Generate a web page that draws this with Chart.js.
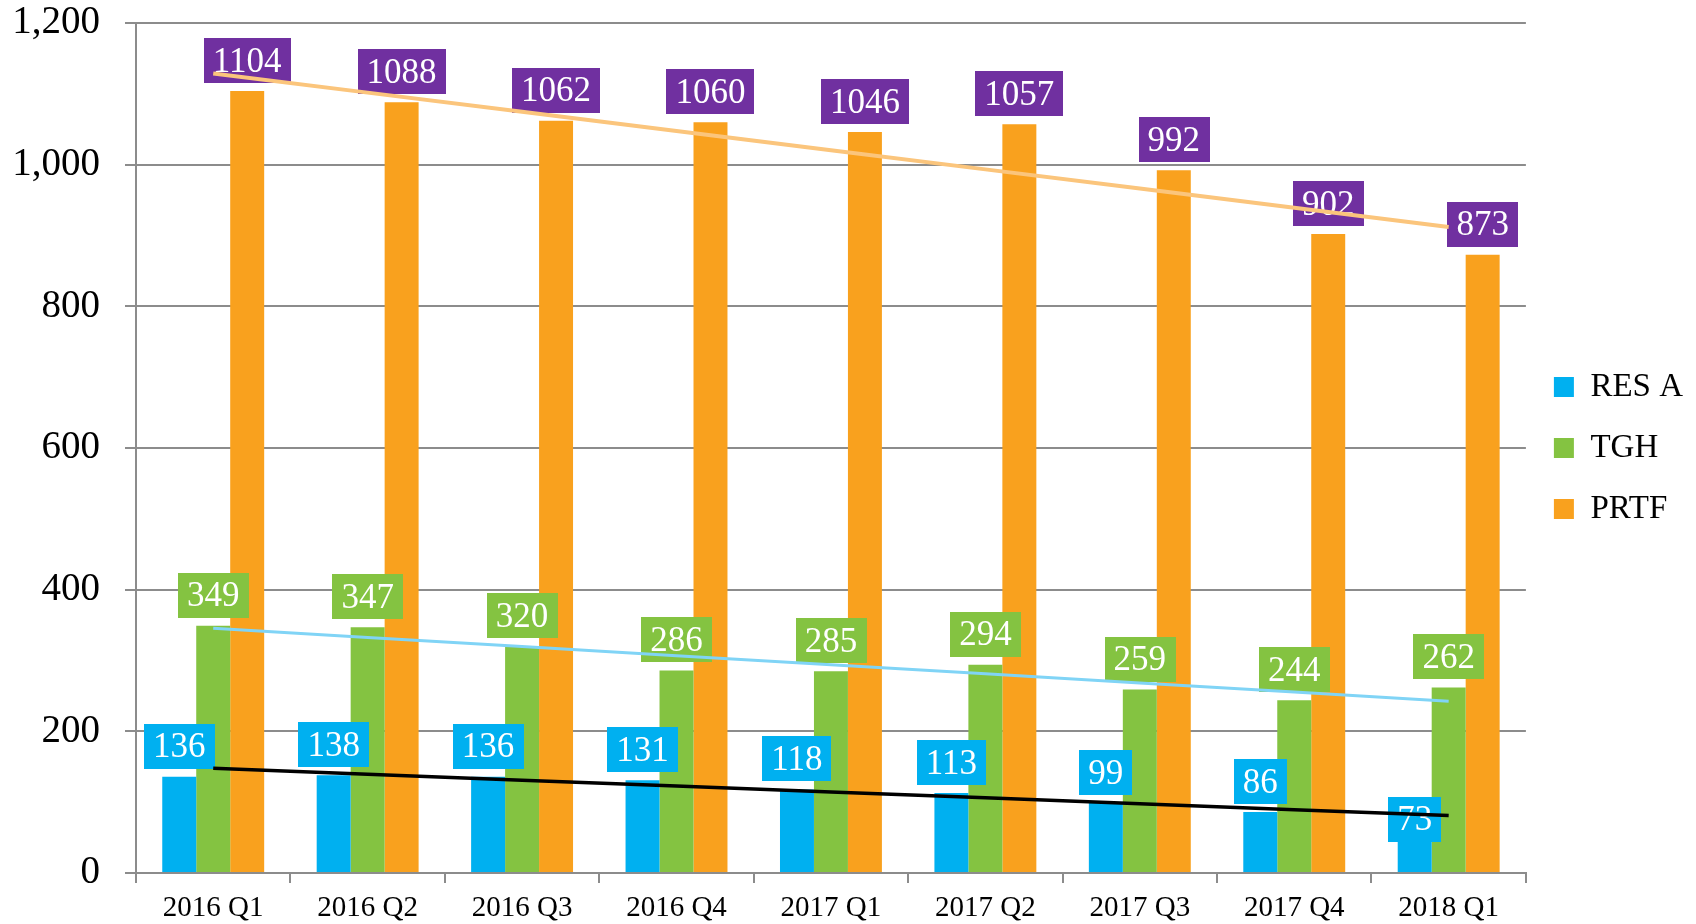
<!DOCTYPE html>
<html><head><meta charset="utf-8">
<script src="https://cdn.jsdelivr.net/npm/chart.js@4.4.0/dist/chart.umd.min.js"></script>
<style>html,body{margin:0;padding:0;background:#fff}#wrap{width:1696px;height:924px;position:relative}</style>
</head><body><div id="wrap"><canvas id="c"></canvas></div>
<script>
const categories = ['2016 Q1','2016 Q2','2016 Q3','2016 Q4','2017 Q1','2017 Q2','2017 Q3','2017 Q4','2018 Q1'];
const resA = [136,138,136,131,118,113,99,86,73];
const tgh = [349,347,320,286,285,294,259,244,262];
const prtf = [1104,1088,1062,1060,1046,1057,992,902,873];
const seriesNames = ['RES A','TGH','PRTF'];
const yMin = 0, yMax = 1200, yStep = 200;

const FONT = "'Liberation Serif', 'DejaVu Serif', serif";
const barColors = ['#00b0f0','#84c341','#f9a11e'];
const labelColors = ['#00b0f0','#84c341','#7030a0'];
const trendColors = ['#000000','#80d4f6','#fbc57c'];
const trendWidths = [3.5,3,4];

// least-squares trend line through a series (Excel linear trendline)
function trend(vals){
  const n = vals.length; let sx=0, sy=0, sxx=0, sxy=0;
  vals.forEach((v,i)=>{sx+=i; sy+=v; sxx+=i*i; sxy+=i*v;});
  const b = (n*sxy - sx*sy)/(n*sxx - sx*sx);
  const a = (sy - b*sx)/n;
  return vals.map((v,i)=>a+b*i);
}

const series = [resA, tgh, prtf];

function drawLabels(chart){
  const ctx = chart.ctx;
  ctx.save();
  ctx.font = "35px " + FONT;
  ctx.textAlign = 'center';
  ctx.textBaseline = 'middle';
  for(let d=0; d<3; d++){
    const meta = chart.getDatasetMeta(d);
    meta.data.forEach((bar,j)=>{
      const txt = String(series[d][j]);
      const w = ctx.measureText(txt).width + 18;
      const h = 45;
      let cy = bar.y - 8 - h/2;
      // last RES A label sits on the bar top in the source
      if(d===0 && j===series[d].length-1) cy = bar.y - 2;
      ctx.fillStyle = labelColors[d];
      ctx.fillRect(Math.round(bar.x - w/2), Math.round(cy - h/2), Math.round(w), h);
      ctx.fillStyle = '#ffffff';
      ctx.fillText(txt, bar.x, cy + 2);
    });
  }
  ctx.restore();
}

const labelPlugin = {
  id:'boxLabels',
  beforeDatasetsDraw(chart){ chart.$lblDone = false; },
  beforeDatasetDraw(chart,args){
    if(!chart.$lblDone && chart.getDatasetMeta(args.index).type==='line'){ drawLabels(chart); chart.$lblDone = true; }
  },
  afterDatasetsDraw(chart){ if(!chart.$lblDone){ drawLabels(chart); chart.$lblDone = true; } }
};

const datasets = [];
for(let d=0; d<3; d++){
  datasets.push({type:'bar', label:seriesNames[d], data:series[d], backgroundColor:barColors[d], borderWidth:0, order:2});
}
for(let d=0; d<3; d++){
  datasets.push({type:'line', label:seriesNames[d]+' trend', data:trend(series[d]), borderColor:trendColors[d],
    borderWidth:trendWidths[d], pointRadius:0, fill:false, tension:0, order:1});
}

const grid = '#8c8c8c';
new Chart(document.getElementById('c'), {
  data:{labels:categories, datasets},
  options:{
    responsive:true, maintainAspectRatio:false, animation:false,
    layout:{padding:{left:0, right:3, top:0, bottom:0}},
    datasets:{bar:{barPercentage:1, categoryPercentage:0.66}},
    plugins:{
      tooltip:{enabled:false},
      legend:{position:'right', align:'center', fullSize:false,
        labels:{filter:(it)=>it.datasetIndex<3, boxWidth:20, boxHeight:20, padding:28,
          color:'#000', font:{family:FONT, size:33}}}
    },
    scales:{
      x:{grid:{drawOnChartArea:false, drawTicks:true, tickLength:10, color:grid, lineWidth:2, offset:true},
         border:{color:grid, width:2},
         ticks:{color:'#000', font:{family:FONT, size:29}, padding:8, maxRotation:0},
         afterFit:(s)=>{ s.height = 51; s.paddingLeft = 0; s.paddingRight = 0; }},
      y:{min:yMin, max:yMax,
         grid:{color:grid, lineWidth:2, tickLength:11},
         border:{color:grid, width:2},
         ticks:{stepSize:yStep, color:'#000', font:{family:FONT, size:39}, padding:25,
           callback:(v)=>v.toLocaleString('en-US')},
         afterFit:(s)=>{ s.width = 136; s.paddingTop = 23; s.paddingBottom = 23; }}
    }
  },
  plugins:[labelPlugin]
});
</script></body></html>
